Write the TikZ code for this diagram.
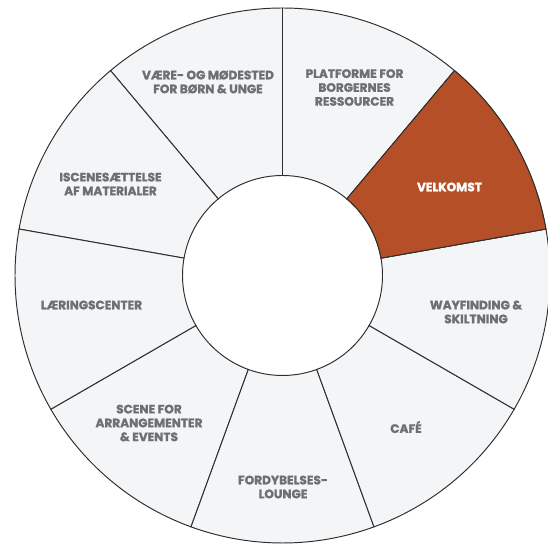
\documentclass[tikz,border=0pt]{standalone}
\usepackage{fontspec}
\setmainfont{Poppins}[BoldFeatures={FakeBold=1.6}]
\definecolor{segfill}{HTML}{F4F5F7}
\definecolor{segred}{HTML}{B54F27}
\definecolor{seggray}{HTML}{6E6F71}
\definecolor{segline}{HTML}{2E2E2E}

\begin{document}
\begin{tikzpicture}[x=0.02cm,y=0.02cm]
    \tikzstyle{segment}=[draw=segline, line width=0.55pt, fill=segfill]
    \tikzstyle{lbl}=[align=center, text=seggray,
        font=\bfseries\fontsize{6.9}{7.9}\selectfont]

    \useasboundingbox (0,0) rectangle (548,544);
    \coordinate (c) at (282.5,268.5);
    \newcommand{\rin}{100}
    \newcommand{\rout}{267.5}
    \begin{scope}[shift={(c)}]
        \foreach \a in {-150,-110,-70,-30,10,50,90,130,170}{
            \path[segment] (\a:\rin) arc[start angle=\a, end angle=\a+40, radius=\rin]
                -- (\a+40:\rout) arc[start angle=\a+40, end angle=\a, radius=\rout] -- cycle;
        }
        \path[segment, fill=segred] (10:\rin) arc[start angle=10, end angle=50, radius=\rin]
            -- (50:\rout) arc[start angle=50, end angle=10, radius=\rout] -- cycle;
    \end{scope}

    \node[lbl] (vaere) at (208,462) {VÆRE- OG MØDESTED\\FOR BØRN \& UNGE};
    \node[lbl] (platform) at (354.5,456.5) {PLATFORME FOR\\BORGERNES\\RESSOURCER};
    \node[lbl, text=white] (velkomst) at (449.5,357) {VELKOMST};
    \node[lbl] (wayfinding) at (476,232) {WAYFINDING \&\\SKILTNING};
    \node[lbl] (cafe) at (406,117) {CAFÉ};
    \node[lbl] (fordybelse) at (283,57) {FORDYBELSES-\\LOUNGE};
    \node[lbl] (scene) at (149,121) {SCENE FOR\\ARRANGEMENTER\\\& EVENTS};
    \node[lbl] (laering) at (91.5,239) {LÆRINGSCENTER};
    \node[lbl] (iscene) at (110.5,360) {ISCENESÆTTELSE\\AF MATERIALER};
\end{tikzpicture}
\end{document}
